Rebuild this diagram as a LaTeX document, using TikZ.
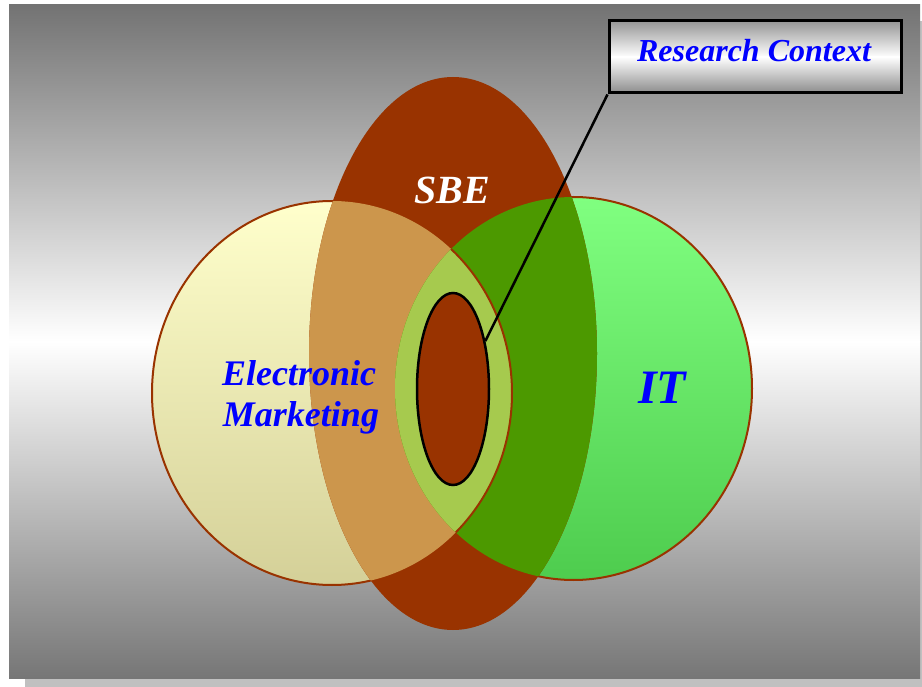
\documentclass[tikz,border=0pt]{standalone}
\usepackage{fontspec}
\setmainfont{Liberation Serif}
\usetikzlibrary{shapes.geometric}
\definecolor{sbe}{RGB}{153,51,0}
\definecolor{tan}{RGB}{204,150,76}
\definecolor{dkgreen}{RGB}{76,153,0}
\definecolor{olive}{RGB}{166,202,78}
\definecolor{ylwtop}{RGB}{255,255,204}
\definecolor{ylwbot}{RGB}{212,208,152}
\definecolor{grntop}{RGB}{128,255,128}
\definecolor{grnbot}{RGB}{78,204,78}
\definecolor{bgtop}{RGB}{115,115,115}
\definecolor{bgbot}{RGB}{118,118,118}
\definecolor{shadowgray}{RGB}{192,192,192}
\definecolor{boxtop}{RGB}{150,150,150}
\definecolor{boxbot}{RGB}{140,140,140}
\definecolor{txtblue}{RGB}{0,0,255}
\tikzset{
  ringline/.style={draw=sbe, line width=2pt},
  lbl/.style={font=\bfseries\itshape, inner sep=0pt, anchor=base},
}
\begin{document}
\begin{tikzpicture}[x=1pt,y=-1pt]
\useasboundingbox (0,0) rectangle (922,687);
% shadow and background
\fill[shadowgray] (25,21) rectangle (936,694);
\shade[top color=bgtop, bottom color=white] (9,5) rectangle (920,341.6);
\shade[top color=white, bottom color=bgbot] (9,341.4) rectangle (920,678);
% electronic marketing circle
\shade[top color=ylwtop, bottom color=ylwbot] (332,393) ellipse [x radius=180, y radius=192];
\draw[ringline] (332,393) ellipse [x radius=180, y radius=192];
% IT circle
\shade[top color=grntop, bottom color=grnbot] (573.5,388.5) ellipse [x radius=178.5, y radius=191.5];
\draw[ringline] (573.5,388.5) ellipse [x radius=178.5, y radius=191.5];
% SBE ellipse
\fill[sbe] (453,353.5) ellipse [x radius=144, y radius=276.5];
\begin{scope}
  \clip (453,353.5) ellipse [x radius=144, y radius=276.5];
  \fill[tan] (332,393) ellipse [x radius=180, y radius=192];
  \fill[dkgreen] (573.5,388.5) ellipse [x radius=178.5, y radius=191.5];
  \begin{scope}
    \clip (332,393) ellipse [x radius=180, y radius=192];
    \fill[olive] (573.5,388.5) ellipse [x radius=178.5, y radius=191.5];
  \end{scope}
\end{scope}
\begin{scope}
  \clip (573.5,388.5) ellipse [x radius=178.5, y radius=191.5];
  \draw[ringline] (332,393) ellipse [x radius=180, y radius=192];
\end{scope}
% research context core
\node[ellipse, draw=black, line width=2.5pt, fill=sbe, minimum width=72pt, minimum height=192pt, inner sep=0pt] (core) at (453,389) {};
% callout box
\shade[top color=boxtop, bottom color=white] (609,21) rectangle (901,57.1);
\shade[top color=white, bottom color=boxbot] (609,56.9) rectangle (901,93);
\node[draw=black, line width=3pt, minimum width=292pt, minimum height=72pt, inner sep=0pt] (rcbox) at (755,57) {};
\draw[line width=2.5pt] (rcbox.south west) -- (core.56);
\node[lbl, text=txtblue, font=\bfseries\itshape\fontsize{32}{38}\selectfont] (rctext) at (754,61.7) {Research Context};
% labels
\node[lbl, text=white, font=\bfseries\itshape\fontsize{40}{48}\selectfont] (sbetext) at (452.5,203.5) {SBE};
\node[lbl, text=txtblue, font=\bfseries\itshape\fontsize{48}{56}\selectfont] (ittext) at (662,403.3) {IT};
\node[lbl, text=txtblue, font=\bfseries\itshape\fontsize{36}{42}\selectfont] (emtext1) at (299,385) {Electronic};
\node[lbl, text=txtblue, font=\bfseries\itshape\fontsize{36}{42}\selectfont] (emtext2) at (301,426.7) {Marketing};
\end{tikzpicture}
\end{document}
